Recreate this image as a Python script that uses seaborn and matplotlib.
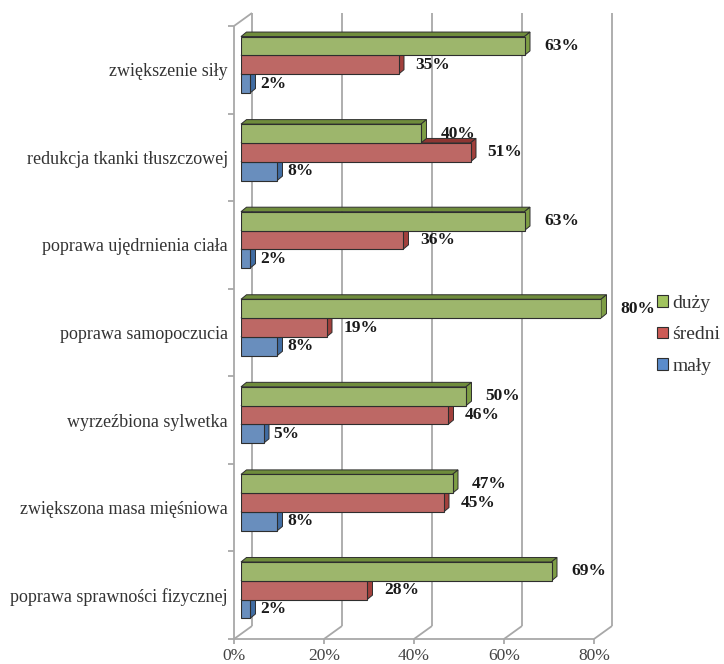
import matplotlib
matplotlib.use("Agg")
import matplotlib.pyplot as plt
from matplotlib.patches import Polygon, Patch
from matplotlib.transforms import ScaledTranslation
import pandas as pd
import seaborn as sns

# Survey data: perceived effect of training, share of answers per level
categories = [
    "zwiększenie siły",
    "redukcja tkanki tłuszczowej",
    "poprawa ujędrnienia ciała",
    "poprawa samopoczucia",
    "wyrzeźbiona sylwetka",
    "zwiększona masa mięśniowa",
    "poprawa sprawności fizycznej",
]
levels = ["duży", "średni", "mały"]
duzy = [63, 40, 63, 80, 50, 47, 69]
sredni = [35, 51, 36, 19, 46, 45, 28]
maly = [2, 8, 2, 8, 5, 8, 2]
x_ticks = [0, 20, 40, 60, 80]
x_tick_labels = ["0%", "20%", "40%", "60%", "80%"]

sns.set_style("white")
plt.rcParams["font.family"] = ["Liberation Serif", "DejaVu Serif"]

df = pd.DataFrame({
    "kategoria": categories * 3,
    "poziom": [lv for lv in levels for _ in categories],
    "wartosc": duzy + sredni + maly,
})

face = {"duży": "#a1c35f", "średni": "#cc5b56", "mały": "#5b8ccb"}
top_face = {"duży": "#6f8c3c", "średni": "#8e3633", "mały": "#37608f"}
side_face = {"duży": "#7e9e45", "średni": "#a2403c", "mały": "#406ca2"}
edge = "#2e2e2e"
frame = "#a8a8a8"

W, H = 724, 664
fig = plt.figure(figsize=(W / 100, H / 100), dpi=100)
L, R, T, B = 241, 601, 21, 634
ax = fig.add_axes([L / W, 1 - B / H, (R - L) / W, (B - T) / H])

sns.barplot(data=df, x="wartosc", y="kategoria", hue="poziom",
            hue_order=levels, order=categories, palette=face, orient="h",
            width=0.645, errorbar=None, edgecolor=edge, linewidth=0.8,
            legend=False, ax=ax)

n = len(categories)
ax.set_xlim(0, 80)
ax.set_ylim(n - 0.5, -0.5)
for s in ax.spines.values():
    s.set_visible(False)
ax.set_xlabel("")
ax.set_ylabel("")

# data units per pixel
px_x = 80 / (R - L)
px_y = n / (B - T)

# bar depth (3D look)
ddx, ddy = 5.5 * px_x, -4.5 * px_y
zbase = {0: 2.6, 1: 2.3, 2: 2.0}
for i, (lv, cont) in enumerate(zip(levels, ax.containers)):
    for p in cont.patches:
        p.set_zorder(zbase[i] + 0.1)
        x0, y0, w, h = p.get_x(), p.get_y(), p.get_width(), p.get_height()
        x1 = x0 + w
        top = Polygon([(x0, y0), (x1, y0), (x1 + ddx, y0 + ddy), (x0 + ddx, y0 + ddy)],
                      closed=True, facecolor=top_face[lv], edgecolor=edge,
                      linewidth=0.7, zorder=zbase[i], clip_on=False)
        side = Polygon([(x1, y0), (x1, y0 + h), (x1 + ddx, y0 + h + ddy), (x1 + ddx, y0 + ddy)],
                       closed=True, facecolor=side_face[lv], edgecolor=edge,
                       linewidth=0.7, zorder=zbase[i], clip_on=False)
        ax.add_patch(top)
        ax.add_patch(side)

# walls: front and back planes
fx, fy = -7 * px_x, 5 * px_y
bx, by = 11 * px_x, -8 * px_y
y_top, y_bot = -0.5, n - 0.5
lk = dict(color=frame, lw=1.3, zorder=0.5, clip_on=False, solid_capstyle="butt")
for v in x_ticks:
    ax.plot([v + bx, v + bx], [y_top + by, y_bot + by], **lk)
    ax.plot([v + bx, v + fx], [y_bot + by, y_bot + fy], **lk)
    ax.plot([v + fx, v + fx], [y_bot + fy, y_bot + fy + 5 * px_y], **lk)
ax.plot([fx, fx], [y_top + fy, y_bot + fy], **lk)
ax.plot([fx, bx], [y_top + fy, y_top + by], **lk)
ax.plot([fx, 80 + fx], [y_bot + fy, y_bot + fy], **lk)
for k in range(n + 1):
    yk = -0.5 + k
    ax.plot([fx - 6 * px_x, fx], [yk + fy, yk + fy], **lk)

# tick labels on the front plane
ax.set_xticks(x_ticks, x_tick_labels)
ax.set_yticks(range(n), categories)
ax.tick_params(axis="x", length=0, pad=10, labelsize=12.5, labelcolor="#444444")
ax.tick_params(axis="y", length=0, pad=9.5, labelsize=13, labelcolor="#333333")
for lab in ax.get_xticklabels():
    lab.set_transform(lab.get_transform() + ScaledTranslation(-0.07, 0, fig.dpi_scale_trans))
for lab in ax.get_yticklabels():
    lab.set_transform(lab.get_transform() + ScaledTranslation(0, -0.05, fig.dpi_scale_trans))

# value labels
pads = {0: 14, 1: 12.3, 2: 7.2}
for i, (lv, cont) in enumerate(zip(levels, ax.containers)):
    ax.bar_label(cont, labels=[f"{p.get_width():.0f}%" for p in cont.patches],
                 padding=pads[i], fontsize=12.5, fontweight="bold",
                 color="#1a1a1a", zorder=5)

handles = [Patch(facecolor=face[lv], edgecolor=edge, linewidth=0.8, label=lv) for lv in levels]
fig.legend(handles=handles, loc="center left", bbox_to_anchor=(657 / W, 1 - 335 / H),
           frameon=False, fontsize=14, handlelength=0.55, handleheight=0.55,
           handletextpad=0.25, labelspacing=0.75, borderaxespad=0, borderpad=0,
           labelcolor="#333333")

fig.savefig("out.png", dpi=100)
